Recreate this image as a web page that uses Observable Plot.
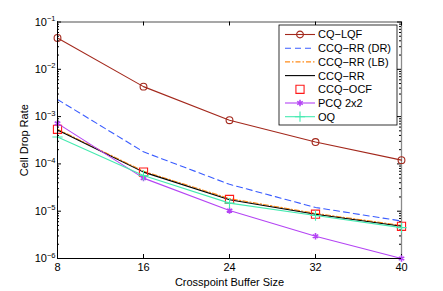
<!DOCTYPE html>
<html><head><meta charset="utf-8">
<script src="https://cdn.jsdelivr.net/npm/d3@7"></script>
<script src="https://cdn.jsdelivr.net/npm/@observablehq/plot@0.6"></script>
<style>body{margin:0;background:#fff}</style>
</head><body><div id="chart"></div>
<script>
// ---- data ----
const bufferSizes = [8, 16, 24, 32, 40];
const seriesNames = ["CQ−LQF", "CCQ−RR (DR)", "CCQ−RR (LB)", "CCQ−RR", "CCQ−OCF", "PCQ 2x2", "OQ"];
const cqLqf   = [4.6e-2, 4.3e-3, 8.4e-4, 2.9e-4, 1.2e-4];
const ccqRrDr = [2.3e-3, 1.8e-4, 3.7e-5, 1.2e-5, 6.2e-6];
const ccqRrLb = [5.4e-4, 7.0e-5, 1.85e-5, 9.0e-6, 5.0e-6];
const ccqRr   = [5.2e-4, 6.7e-5, 1.75e-5, 8.6e-6, 4.8e-6];
const ccqOcf  = [5.4e-4, 6.7e-5, 1.77e-5, 8.65e-6, 4.8e-6];
const pcq2x2  = [7.2e-4, 5.0e-5, 1.03e-5, 2.95e-6, 1.0e-6];
const oq      = [3.7e-4, 5.7e-5, 1.48e-5, 8.1e-6, 4.5e-6];
const yDecades = [1e-6, 1e-5, 1e-4, 1e-3, 1e-2, 1e-1];
const yExponents = ["−6", "−5", "−4", "−3", "−2", "−1"];
const xLabel = "Crosspoint Buffer Size";
const yLabel = "Cell Drop Rate";

// ---- styles ----
const seriesValues = [cqLqf, ccqRrDr, ccqRrLb, ccqRr, ccqOcf, pcq2x2, oq];
const colors = ["#a3281c", "#3a5cff", "#ff8c1a", "#000000", "#ff1a1a", "#b444f4", "#44eab0"];
const dashes = [null, "6,4", "5,2,1.5,2", null, null, null, null];
const hasLine = [true, true, true, true, false, true, true];
const symbols = ["circle", null, null, null, "square", "asterisk", "plus"];
const symR = [3.4, 0, 0, 0, 4.6, 3, 3.4];

const rows = [];
seriesNames.forEach((s, i) => seriesValues[i].forEach((v, j) => rows.push({series: s, idx: i, x: bufferSizes[j], y: v})));

const minorY = [];
for (const d of yDecades.slice(0, -1)) for (let k = 2; k <= 9; k++) minorY.push(d * k);

const W = 443, H = 291, ml = 57, mr = 42, mt = 21.5, mb = 33;
const pw = W - ml - mr, ph = H - mt - mb;

const marks = [];
// frame
marks.push(Plot.ruleY([1e-1], {stroke: "#8a8a8a", strokeWidth: 1.3}));
marks.push(Plot.ruleX([40], {stroke: "#8a8a8a", strokeWidth: 1.3}));
// ticks
marks.push(Plot.tickY(yDecades, {y: d => d, insetRight: pw - 4, stroke: "#000"}));
marks.push(Plot.tickY(yDecades, {y: d => d, insetLeft: pw - 4, stroke: "#000"}));
marks.push(Plot.tickY(minorY, {y: d => d, insetRight: pw - 2, stroke: "#000"}));
marks.push(Plot.tickY(minorY, {y: d => d, insetLeft: pw - 2, stroke: "#000"}));
marks.push(Plot.tickX(bufferSizes, {x: d => d, insetTop: ph - 4, stroke: "#000"}));
marks.push(Plot.tickX(bufferSizes, {x: d => d, insetBottom: ph - 4, stroke: "#000"}));

seriesNames.forEach((s, i) => {
  const data = rows.filter(r => r.idx === i);
  if (hasLine[i]) marks.push(Plot.line(data, {x: "x", y: "y", stroke: colors[i], strokeWidth: 1.1, strokeDasharray: dashes[i]}));
  if (symbols[i]) marks.push(Plot.dot(data, {x: "x", y: "y", symbol: symbols[i], r: symR[i], stroke: colors[i], fill: "none", strokeWidth: symbols[i] === "asterisk" ? 1.6 : 1.1}));
});

marks.push(Plot.ruleX([8], {stroke: "#000"}));
marks.push(Plot.ruleY([1e-6], {stroke: "#000"}));
marks.push(Plot.axisX({ticks: bufferSizes, tickSize: 0, tickPadding: 5, tickFormat: d => String(d), fontSize: 11,
  label: xLabel, labelAnchor: "center", labelArrow: "none", labelOffset: 27}));
marks.push(Plot.axisY({ticks: yDecades, tickSize: 0, tickPadding: 2, fontSize: 11,
  tickFormat: d => "10^" + yExponents[yDecades.indexOf(d)],
  label: yLabel, labelAnchor: "center", labelArrow: "none", labelOffset: 37}));

const chart = Plot.plot({
  width: W, height: H, marginLeft: ml, marginRight: mr, marginTop: mt, marginBottom: mb,
  style: {fontFamily: "'Liberation Sans', Arial, sans-serif", fontSize: "11px", color: "#000", background: "#fff"},
  x: {domain: [8, 40]},
  y: {type: "log", domain: [1e-6, 1e-1]},
  marks
});
document.getElementById("chart").appendChild(chart);

const svg = d3.select(chart);
svg.selectAll("g[aria-label='y-axis tick label'] text").each(function() {
  const t = d3.select(this);
  const parts = t.text().split("^");
  t.text(null);
  t.append("tspan").text(parts[0]);
  t.append("tspan").attr("dy", "-4.5").attr("font-size", "7.5px").text(parts[1]);
});

// legend
const lg = svg.append("g").attr("text-anchor", "start");
const lx = 279, ly = 25, lw = 118, lh = 100;
lg.append("rect").attr("x", lx).attr("y", ly).attr("width", lw).attr("height", lh)
  .attr("fill", "#fff").attr("stroke", "#000").attr("stroke-width", 0.8);
const d3sym = {circle: d3.symbolCircle, square: d3.symbolSquare, asterisk: d3.symbolAsterisk, plus: d3.symbolPlus};
seriesNames.forEach((s, i) => {
  const y = 34.5 + 13.7 * i;
  if (hasLine[i]) lg.append("line").attr("x1", 285).attr("x2", 315).attr("y1", y).attr("y2", y)
    .attr("stroke", colors[i]).attr("stroke-width", 1.1).attr("stroke-dasharray", dashes[i]);
  if (symbols[i]) lg.append("path").attr("d", d3.symbol(d3sym[symbols[i]], Math.PI * symR[i] * symR[i])())
    .attr("transform", `translate(300,${y})`).attr("fill", "none").attr("stroke", colors[i])
    .attr("stroke-width", symbols[i] === "asterisk" ? 1.6 : 1.1);
  lg.append("text").attr("x", 318).attr("y", y).attr("dy", "0.36em").attr("font-size", "11px")
    .attr("text-anchor", "start").text(s);
});
</script></body></html>
